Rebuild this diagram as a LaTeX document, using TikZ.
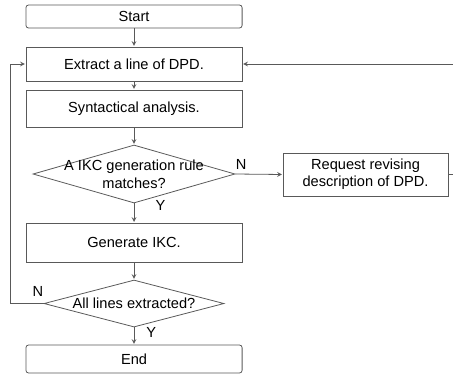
\documentclass[tikz,border=0pt]{standalone}
\usepackage{fontspec}
\setmainfont{Liberation Sans}
\usetikzlibrary{shapes.geometric}

\tikzset{
    stepbox/.style={rectangle,draw=black!65,line width=0.6pt,inner sep=0pt,minimum width=5.72cm},
    endbox/.style={stepbox,rounded corners=2pt},
    decision/.style={diamond,draw=black!65,line width=0.6pt,inner sep=0pt},
    flow/.style={draw=black!65,line width=0.6pt,-stealth,shorten >=0.5pt},
    yn/.style={font=\fontsize{11}{13}\selectfont,inner sep=1pt},
}

\begin{document}
\begin{tikzpicture}[font=\fontsize{11}{13}\selectfont]
    \useasboundingbox (0,0) rectangle (11.986,9.896);
    \node at (3.546,9.459) [endbox,minimum height=0.609cm] (start) {Start};
    \node at (3.546,8.203) [stepbox,minimum height=0.9cm] (extract) {Extract a line of DPD.};
    \node at (3.546,7.025) [stepbox,minimum height=0.979cm] (syntax) {Syntactical analysis.};
    \node at (3.546,5.292) [decision,minimum width=5.345cm,minimum height=1.535cm,
        label={[align=center,font=\fontsize{11}{13.5}\selectfont]center:A IKC generation rule\\matches?}] (match) {};
    \node at (9.671,5.279) [stepbox,minimum width=4.366cm,minimum height=1.138cm,align=center] (request) {Request revising\\description of DPD.};
    \node at (3.546,3.479) [stepbox,minimum height=1.032cm] (generate) {Generate IKC.};
    \node at (3.546,1.865) [decision,minimum width=4.763cm,minimum height=1.244cm,
        label=center:All lines extracted?] (alllines) {};
    \node at (3.546,0.397) [endbox,minimum height=0.741cm] (end) {End};
    \coordinate (leftturn) at (0.265,0);
    \coordinate (rightturn) at (12.3,0);

    \draw[flow] (start) -- (extract);
    \draw[flow] (extract) -- (syntax);
    \draw[flow] (syntax) -- (match.north);
    \draw[flow] (match.south) -- (generate) node[yn,pos=0.1,right=15pt] {Y};
    \draw[flow] (match.east) -- (request.west) node[yn,pos=0.12,above=2pt] {N};
    \draw[flow] (generate) -- (alllines.north);
    \draw[flow] (alllines.south) -- (end) node[yn,pos=0.28,right=8pt] {Y};
    \draw[flow] (alllines.west) -- (leftturn|-alllines.west) node[yn,pos=0.17,above=4pt] {N}
        -- (leftturn|-extract.west) -- (extract.west);
    \draw[flow] (request.east) -- (rightturn|-request.east) -- (rightturn|-extract.east) -- (extract.east);
\end{tikzpicture}
\end{document}
